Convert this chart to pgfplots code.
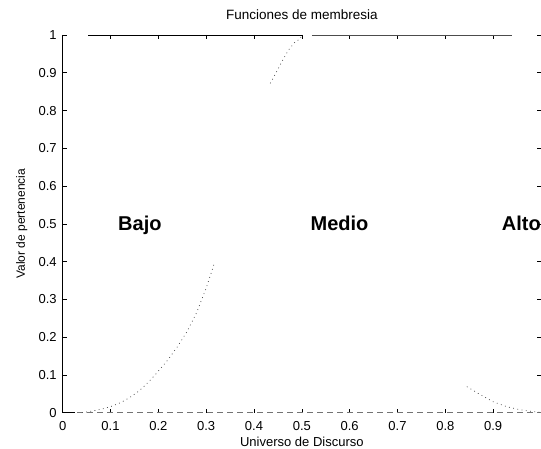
\documentclass[border=0pt]{standalone}
\usepackage{pgfplots}
\pgfplotsset{compat=1.18}
\usepackage{fontspec}
\setmainfont{Liberation Sans}
\begin{document}
\begin{tikzpicture}
\begin{axis}[
  scale only axis, width=478.3bp, height=377.7bp,
  xmin=0, xmax=1, ymin=0, ymax=1,
  axis line style={draw=none},
  tick align=inside,
  major tick length=4bp,
  tick style={black, line width=0.6pt},
  xtick={0,0.1,0.2,0.3,0.4,0.5,0.6,0.7,0.8,0.9,1},
  xticklabels={0,0.1,0.2,0.3,0.4,0.5,0.6,0.7,0.8,0.9,{}},
  ytick={0,0.1,0.2,0.3,0.4,0.5,0.6,0.7,0.8,0.9,1},
  yticklabels={0,0.1,0.2,0.3,0.4,0.5,0.6,0.7,0.8,0.9,1},
  /pgf/number format/assume math mode=true,
  ticklabel style={font=\fontsize{13bp}{15bp}\selectfont},
  xticklabel style={yshift=-5.2bp},
  yticklabel style={xshift=-2.5bp},
  clip=false,
]
\coordinate (bl) at (rel axis cs:0,0);
\coordinate (tr) at (rel axis cs:1,1);
% axis frame remnants
\draw[black, line width=1.2pt] (rel axis cs:0,0) -- (rel axis cs:0,1);
\draw[black, line width=1.2pt] (axis cs:0,0) -- (axis cs:0.025,0);
\draw[black!55, line width=0.8pt, dash pattern=on 6bp off 4bp] (axis cs:0.03,0) -- (axis cs:1,0);
\addplot[black, line width=0.9pt] coordinates {(0.053,1) (0.502,1)};
\addplot[black!70, line width=0.9pt] coordinates {(0.521,1) (0.939,1)};
% membership curve fragments
\addplot[black!75, line width=0.7pt, dash pattern=on 0.8pt off 3.5pt] coordinates {
(0.04,0.0) (0.06,0.004) (0.08,0.009) (0.1,0.016) (0.12,0.026) (0.14,0.04) (0.16,0.058)
(0.18,0.082) (0.2,0.11) (0.22,0.14) (0.24,0.175) (0.26,0.215) (0.28,0.265)
(0.30,0.33) (0.311,0.372) (0.318,0.40)};
\addplot[black!75, line width=0.7pt, dash pattern=on 0.8pt off 3.5pt] coordinates {
(0.434,0.872) (0.446,0.90) (0.458,0.929) (0.472,0.96) (0.486,0.982) (0.496,0.989) (0.5,1)};
\addplot[black!75, line width=0.7pt, dash pattern=on 0.8pt off 3.5pt] coordinates {
(0.845,0.069) (0.87,0.05) (0.9,0.029) (0.928,0.016) (0.955,0.008) (0.983,0.003) (1.0,0.001)};
% labels
\node[anchor=base west, inner sep=0pt, font=\bfseries\fontsize{20bp}{24bp}\selectfont] at (axis cs:0.1156,0.482) {Bajo};
\node[anchor=base west, inner sep=0pt, font=\bfseries\fontsize{20bp}{24bp}\selectfont] at (axis cs:0.518,0.482) {Medio};
\node[anchor=base west, inner sep=0pt, font=\bfseries\fontsize{20bp}{24bp}\selectfont] at (axis cs:0.918,0.482) {Alto};
\node[anchor=base, inner sep=0pt, font=\fontsize{13.5bp}{16bp}\selectfont] at ([yshift=15bp]rel axis cs:0.5,1) {Funciones de membresia};
\node[anchor=base, inner sep=0pt, font=\fontsize{13bp}{15bp}\selectfont] at ([yshift=-34bp]rel axis cs:0.5,0) {Universo de Discurso};
\node[anchor=base, rotate=90, inner sep=0pt, font=\fontsize{12bp}{14bp}\selectfont] at ([xshift=-37.7bp]rel axis cs:0,0.5) {Valor de pertenencia};
\end{axis}
\pgfresetboundingbox
\path[use as bounding box] ([shift={(-62.7bp,-36.3bp)}]bl) rectangle ([shift={(0bp,35bp)}]tr);
\end{tikzpicture}
\end{document}
